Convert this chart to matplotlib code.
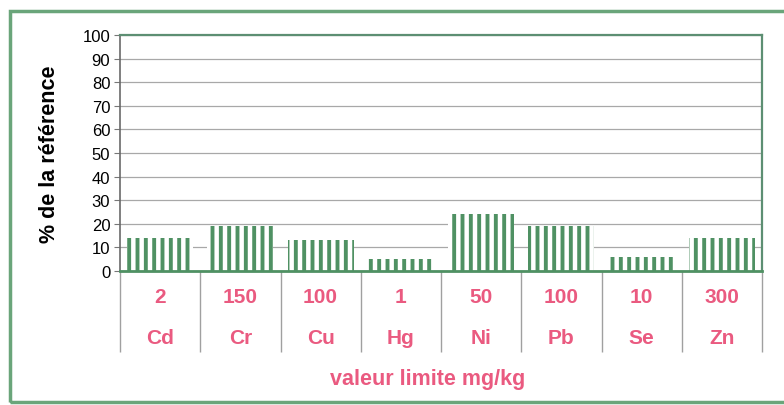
import numpy as np
import matplotlib.pyplot as plt
from matplotlib.patches import Rectangle

elements = ['Cd', 'Cr', 'Cu', 'Hg', 'Ni', 'Pb', 'Se', 'Zn']
limits = ['2', '150', '100', '1', '50', '100', '10', '300']
pct_ref = [14, 19, 13, 5, 24, 19, 6, 14]

GREEN = '#4f9163'
PINK = '#ea5a80'
FONT = 'Liberation Sans'

plt.rcParams['font.family'] = FONT
plt.rcParams['hatch.linewidth'] = 2.8

fig = plt.figure(figsize=(7.84, 4.06), dpi=100)
ax = fig.add_axes([120 / 784, 1 - 272 / 406, 642 / 784, 236 / 406])

x = np.arange(len(elements))
ax.bar(x, pct_ref, width=0.82, color='white', edgecolor=GREEN, linewidth=0,
       hatch='||', zorder=3)

ax.set_xlim(-0.5, len(elements) - 0.5)
ax.set_ylim(0, 100)
ax.set_yticks(np.arange(0, 101, 10))
ax.tick_params(axis='y', labelsize=12, length=4, color='#777777', pad=3)
ax.grid(axis='y', color='#a8a8a8', linewidth=0.9, zorder=0)

# category boundaries as long ticks below the axis
ax.set_xticks(np.arange(-0.5, len(elements), 1.0))
ax.set_xticklabels([])
ax.tick_params(axis='x', length=58, width=1.0, color='#a0a0a0', direction='out')

for sp in ['top', 'right']:
    ax.spines[sp].set_color('#5d8f73')
    ax.spines[sp].set_linewidth(1.6)
ax.spines['left'].set_color('#6a6a6a')
ax.spines['left'].set_linewidth(1.2)
ax.spines['bottom'].set_color(GREEN)
ax.spines['bottom'].set_linewidth(2.0)
ax.spines['bottom'].set_zorder(4)

trans = ax.get_xaxis_transform()
for xi, lim, el in zip(x, limits, elements):
    ax.text(xi, -0.11, lim, transform=trans, ha='center', va='center',
            color=PINK, fontsize=15, fontweight='bold')
    ax.text(xi, -0.28, el, transform=trans, ha='center', va='center',
            color=PINK, fontsize=15, fontweight='bold')

ax.set_ylabel('% de la référence', fontsize=15.5, fontweight='bold', labelpad=16)
fig.text(428 / 784, 1 - 380 / 406, 'valeur limite mg/kg', ha='center', va='center',
         color=PINK, fontsize=15.5, fontweight='bold')

# outer frame
fig.patches.append(Rectangle((10 / 784, 1 - 403 / 406), 790 / 784, 391 / 406,
                             transform=fig.transFigure, fill=False,
                             edgecolor='#6aa57a', linewidth=2.5))

fig.savefig('out.png', dpi=100)
